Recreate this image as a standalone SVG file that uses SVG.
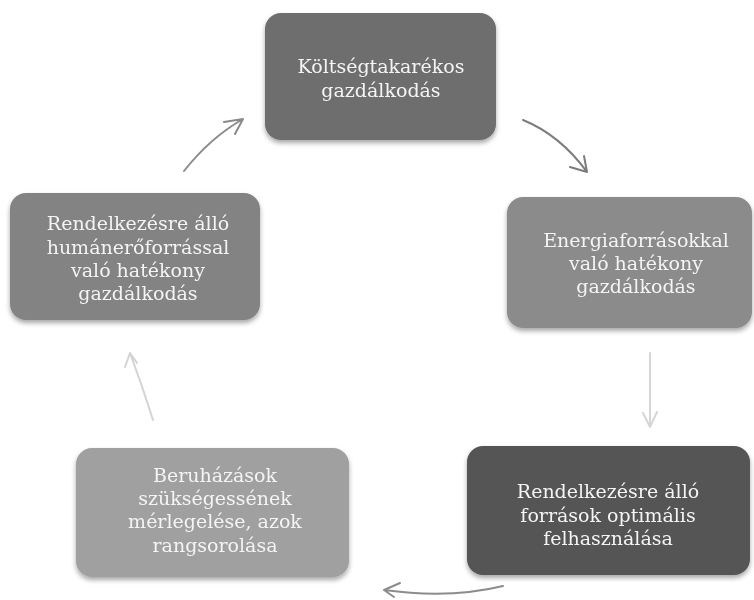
<svg xmlns="http://www.w3.org/2000/svg" width="754" height="600" viewBox="0 0 754 600">
<defs>
<style>
.box{stroke:none}
.t{font-family:"DejaVu Serif","Liberation Serif",serif;font-size:19px;fill:#f4f4f4;text-anchor:middle}
.c{fill:none;stroke-width:2;stroke-linecap:round;stroke-linejoin:round}
</style>
<filter id="sh" x="-10%" y="-10%" width="120%" height="130%">
<feGaussianBlur in="SourceAlpha" stdDeviation="2.5"/>
<feOffset dx="0" dy="3" result="b"/>
<feComponentTransfer><feFuncA type="linear" slope="0.35"/></feComponentTransfer>
<feMerge><feMergeNode/><feMergeNode in="SourceGraphic"/></feMerge>
</filter>
</defs>
<rect width="754" height="600" fill="#ffffff"/>
<g id="connectors">
<path class="c" stroke="#8a8a8a" d="M184,171 Q210,138 243,119 M224,122 L243,119 L235,134"/>
<path class="c" stroke="#7c7c7c" d="M523,120 Q560,135 587,172 M570,167 L587,172 L584,156"/>
<path class="c" stroke="#d6d6d6" d="M650,353 L650,427 M643,413 L650,427 L657,412"/>
<path class="c" stroke="#8c8c8c" d="M503,586 Q450,599 384,590 M400,583 L384,590 L394,597"/>
<path class="c" stroke="#d4d4d4" d="M153,420 Q142,385 130,353 M125,367 L130,353 L137,363"/>
</g>
<g id="n1" filter="url(#sh)">
<rect class="box" x="265" y="13" width="231" height="127" rx="16" fill="#6e6e6e"/>
<text class="t" x="381" y="73">Költségtakarékos</text>
<text class="t" x="381" y="97">gazdálkodás</text>
</g>
<g id="n2" filter="url(#sh)">
<rect class="box" x="10" y="193" width="250" height="127" rx="16" fill="#838383"/>
<text class="t" x="138" y="230">Rendelkezésre álló</text>
<text class="t" x="138" y="254">humánerőforrással</text>
<text class="t" x="138" y="277">való hatékony</text>
<text class="t" x="138" y="300">gazdálkodás</text>
</g>
<g id="n3" filter="url(#sh)">
<rect class="box" x="507" y="197" width="245" height="131" rx="16" fill="#8b8b8b"/>
<text class="t" x="636" y="247">Energiaforrásokkal</text>
<text class="t" x="636" y="270">való hatékony</text>
<text class="t" x="636" y="293">gazdálkodás</text>
</g>
<g id="n5" filter="url(#sh)">
<rect class="box" x="467" y="446" width="283" height="129" rx="16" fill="#545454"/>
<text class="t" x="608" y="498">Rendelkezésre álló</text>
<text class="t" x="608" y="522">források optimális</text>
<text class="t" x="608" y="545">felhasználása</text>
</g>
<g id="n4" filter="url(#sh)">
<rect class="box" x="76" y="448" width="273" height="129" rx="16" fill="#a0a0a0"/>
<text class="t" x="215" y="482">Beruházások</text>
<text class="t" x="215" y="505">szükségessének</text>
<text class="t" x="215" y="528">mérlegelése, azok</text>
<text class="t" x="215" y="552">rangsorolása</text>
</g>
</svg>
